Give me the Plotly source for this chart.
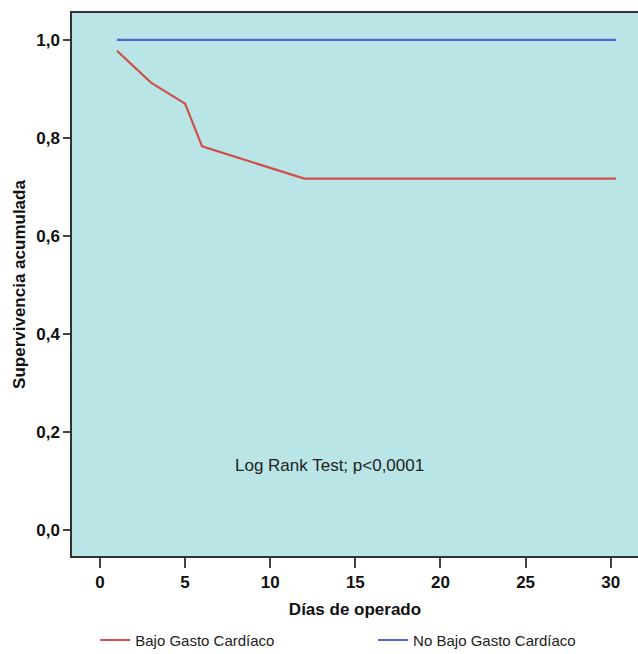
import plotly.graph_objects as go

dias_bajo = [1, 3, 5, 6, 12, 30.3]
superv_bajo = [0.978, 0.913, 0.870, 0.783, 0.717, 0.717]
dias_no_bajo = [1, 30.3]
superv_no_bajo = [1.0, 1.0]
x_ticks = [0, 5, 10, 15, 20, 25, 30]
y_ticks = [0.0, 0.2, 0.4, 0.6, 0.8, 1.0]

FONT = "Liberation Sans, Arial"

fig = go.Figure()
fig.add_trace(go.Scatter(x=dias_bajo, y=superv_bajo, mode="lines",
                         name="Bajo Gasto Cardíaco", legend="legend",
                         line=dict(color="#cf4f4b", width=2.2)))
fig.add_trace(go.Scatter(x=dias_no_bajo, y=superv_no_bajo, mode="lines",
                         name="No Bajo Gasto Cardíaco", legend="legend2",
                         line=dict(color="#5166d6", width=2.2)))

fig.add_annotation(x=13.5, y=0.132, text="Log Rank Test; p<0,0001", showarrow=False,
                   font=dict(family=FONT, size=17, color="#222"))

leg_common = dict(orientation="h", yref="container", yanchor="middle", y=0.021,
                  xanchor="left",
                  font=dict(size=15, color="#222", family=FONT), itemwidth=30,
                  bgcolor="rgba(0,0,0,0)")

fig.update_layout(
    width=638, height=654,
    margin=dict(l=72, r=0, t=13, b=98, autoexpand=False),
    paper_bgcolor="white", plot_bgcolor="#b9e5e7",
    separators=",.",
    font=dict(family=FONT, color="#111"),
    showlegend=True,
    legend=dict(x=0.041, **leg_common),
    legend2=dict(x=0.532, **leg_common),
    xaxis=dict(range=[-1.64, 31.6], tickvals=x_ticks, showgrid=False, zeroline=False,
               automargin=False,
               showline=True, linecolor="#333", linewidth=1.5, mirror=True,
               ticks="outside", ticklen=10, tickcolor="#444", tickwidth=1.5,
               tickfont=dict(size=17, family=FONT, weight="bold", color="#111"),
               title=dict(text="<b>Días de operado</b>", font=dict(size=17), standoff=12)),
    yaxis=dict(range=[-0.053, 1.055], tickvals=y_ticks, tickformat=".1f", showgrid=False,
               automargin=False,
               zeroline=False, showline=True, linecolor="#333", linewidth=1.5,
               ticks="outside", ticklen=7, tickcolor="#444", tickwidth=1.5,
               tickfont=dict(size=17, family=FONT, weight="bold", color="#111"),
               title=dict(text="<b>Supervivencia acumulada</b>", font=dict(size=17), standoff=6)),
)

fig.write_html("out.html", config={"displayModeBar": False},
               post_script="document.body.style.margin='0';document.body.style.overflow='hidden';")
